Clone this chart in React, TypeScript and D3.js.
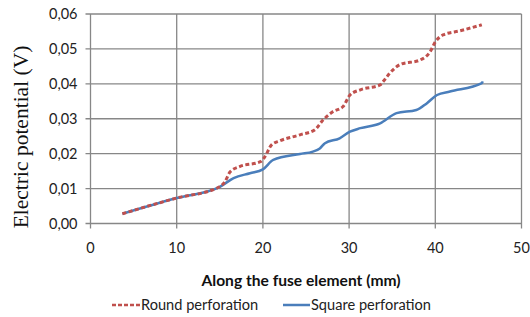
import { useRef, useEffect } from 'react'
import * as d3 from 'd3'

// Round perforation (red dashed)
const roundX = [3.7, 10, 14.8, 15.6, 16.2, 17.3, 19.7, 20.2, 21, 22, 24.3, 26, 27, 28.1, 29.3, 30.1, 31.3, 33.6, 34, 34.7, 35.9, 38.2, 39.4, 40, 40.9, 42.9, 45.4]
const roundY = [0.0028, 0.0073, 0.0103, 0.012, 0.0148, 0.0163, 0.0177, 0.019, 0.0225, 0.0237, 0.0254, 0.0268, 0.0297, 0.032, 0.0335, 0.0368, 0.0383, 0.0397, 0.0408, 0.043, 0.0455, 0.0468, 0.0492, 0.052, 0.054, 0.0552, 0.0569]

// Square perforation (blue solid)
const squareX = [3.7, 10, 15, 16.6, 18.5, 20, 21.2, 24.3, 25.8, 26.6, 27.2, 28.9, 30.1, 31.3, 33.6, 35.5, 37.8, 39, 40.2, 41.7, 45.4, 45.5]
const squareY = [0.0028, 0.0073, 0.0105, 0.013, 0.0144, 0.0155, 0.0182, 0.0199, 0.0206, 0.0215, 0.023, 0.0244, 0.0263, 0.0273, 0.0287, 0.0316, 0.0325, 0.0344, 0.0368, 0.0378, 0.0402, 0.0407]

const xTicks = [0, 10, 20, 30, 40, 50]
const yTicks = [0, 0.01, 0.02, 0.03, 0.04, 0.05, 0.06]

const seriesNames = ['Round perforation', 'Square perforation']

export default function App() {
  const svgRef = useRef<SVGSVGElement>(null)

  useEffect(() => {
    if (!svgRef.current) return
    const svg = d3.select(svgRef.current)
    svg.selectAll('*').remove()

    const width = 530
    const height = 317
    const margin = { top: 14, right: 8.5, bottom: 93.5, left: 90.5 }
    const innerWidth = width - margin.left - margin.right
    const innerHeight = height - margin.top - margin.bottom

    svg.attr('width', width).attr('height', height)
    svg.append('rect').attr('width', width).attr('height', height).attr('fill', '#fff')

    const g = svg.append('g').attr('transform', `translate(${margin.left},${margin.top})`)

    const xScale = d3.scaleLinear().domain([0, 50]).range([0, innerWidth])
    const yScale = d3.scaleLinear().domain([0, 0.06]).range([innerHeight, 0])

    const gridColor = '#878787'
    const font = 'Lato, "Open Sans", sans-serif'

    // Grid
    for (const t of xTicks) {
      g.append('line')
        .attr('x1', xScale(t)).attr('x2', xScale(t))
        .attr('y1', 0).attr('y2', innerHeight + 5)
        .attr('stroke', gridColor).attr('stroke-width', 1.3)
    }
    for (const t of yTicks) {
      g.append('line')
        .attr('x1', -5).attr('x2', innerWidth)
        .attr('y1', yScale(t)).attr('y2', yScale(t))
        .attr('stroke', gridColor).attr('stroke-width', 1.3)
    }

    // Y tick labels
    g.selectAll('.ylab')
      .data(yTicks)
      .join('text')
      .attr('x', -13)
      .attr('y', (d) => yScale(d))
      .attr('dy', '0.36em')
      .attr('text-anchor', 'end')
      .attr('font-family', font)
      .attr('font-size', '14.5px')
      .attr('fill', '#222')
      .text((d) => d3.format('.2f')(d).replace('.', ','))

    // X tick labels
    g.selectAll('.xlab')
      .data(xTicks)
      .join('text')
      .attr('x', (d) => xScale(d))
      .attr('y', innerHeight + 29)
      .attr('text-anchor', 'middle')
      .attr('font-family', font)
      .attr('font-size', '14.5px')
      .attr('fill', '#222')
      .text((d) => String(d))

    // Lines
    const line = d3.line<[number, number]>()
      .x((d) => xScale(d[0]))
      .y((d) => yScale(d[1]))
      .curve(d3.curveMonotoneX)

    const squareData = squareX.map((x, i) => [x, squareY[i]] as [number, number])
    const roundData = roundX.map((x, i) => [x, roundY[i]] as [number, number])

    g.append('path').datum(squareData)
      .attr('fill', 'none').attr('stroke', '#4a7ebb').attr('stroke-width', 2.5)
      .attr('d', line)

    g.append('path').datum(roundData)
      .attr('fill', 'none').attr('stroke', '#c0504d').attr('stroke-width', 3)
      .attr('stroke-dasharray', '4,2.5')
      .attr('d', line)

    // Axis titles
    svg.append('text')
      .attr('x', 301).attr('y', 286)
      .attr('text-anchor', 'middle')
      .attr('font-family', font)
      .attr('font-weight', 'bold')
      .attr('font-size', '15.6px')
      .attr('fill', '#111')
      .text('Along the fuse element (mm)')

    svg.append('text')
      .attr('transform', 'translate(28,137) rotate(-90)')
      .attr('text-anchor', 'middle')
      .attr('font-family', '"Liberation Serif", "Times New Roman", serif')
      .attr('font-size', '21.5px')
      .attr('fill', '#111')
      .text('Electric potential (V)')

    // Legend
    const legend = [
      { name: seriesNames[0], color: '#c0504d', dash: '4,2', x1: 112, x2: 140 },
      { name: seriesNames[1], color: '#4a7ebb', dash: null, x1: 283, x2: 310 },
    ]
    for (const l of legend) {
      svg.append('line')
        .attr('x1', l.x1).attr('x2', l.x2).attr('y1', 305).attr('y2', 305)
        .attr('stroke', l.color).attr('stroke-width', 2.5)
        .attr('stroke-dasharray', l.dash)
      svg.append('text')
        .attr('x', l.x2 + 1).attr('y', 305).attr('dy', '0.36em')
        .attr('font-family', font)
        .attr('font-size', '14.6px')
        .attr('fill', '#222')
        .text(l.name)
    }
  }, [])

  return (
    <div style={{ position: 'absolute', left: 0, top: 0 }}>
      <svg ref={svgRef} style={{ display: 'block' }} />
    </div>
  )
}
